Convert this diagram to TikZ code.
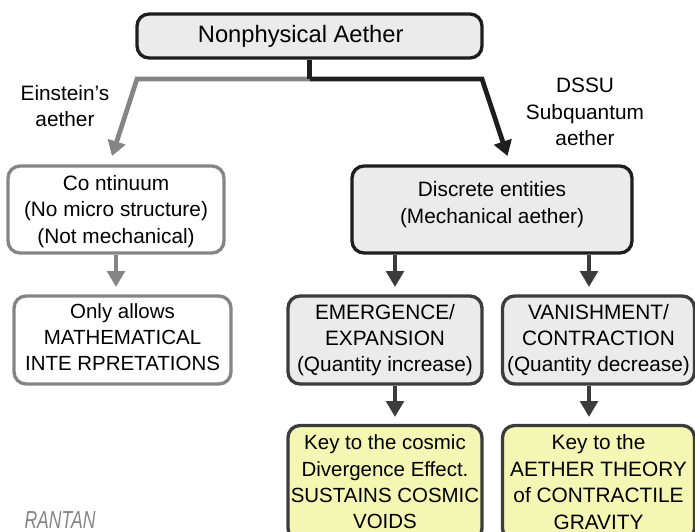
\documentclass[tikz,border=0pt]{standalone}
\usepackage{fontspec}
\setmainfont{Liberation Sans}
\usetikzlibrary{arrows.meta}
\definecolor{boxgrey}{HTML}{EBEBEB}
\definecolor{boxyellow}{HTML}{F4F6B4}
\definecolor{linegrey}{HTML}{858585}
\definecolor{linedark}{HTML}{3C3C3C}
\definecolor{lineblack}{HTML}{1E1E1E}
\newcommand{\liftlines}[1]{\rule[-#1]{0pt}{0pt}}
\newcommand{\droplines}[1]{\rule{0pt}{#1}}
\tikzset{
  every node/.style={align=center,inner sep=0pt,font=\fontsize{11.85}{15}\selectfont},
  narrowtext/.style={font=\fontsize{11.65}{15}\selectfont},
  mainbox/.style={draw=lineblack,line width=1.9pt,rounded corners=0.24cm,fill=boxgrey},
  greybox/.style={draw=linedark,line width=1.9pt,rounded corners=0.24cm,fill=boxgrey},
  whitebox/.style={draw=linegrey,line width=1.9pt,rounded corners=0.24cm,fill=white},
  keybox/.style={draw=linedark,line width=1.9pt,rounded corners=0.24cm,fill=boxyellow},
  thinarrow/.style={line width=2.5pt,-{Triangle[length=0.32cm,width=0.35cm]}},
  wideline/.style={line width=2.7pt,line join=miter},
  widearrow/.style={wideline,-{Triangle[length=0.3cm,width=0.36cm]}}
}
\begin{document}
\begin{tikzpicture}[x=0.02cm,y=-0.02cm]
\useasboundingbox (0,0) rectangle (695,531);
\clip (0,0) rectangle (695,531);

%boxes
\node[mainbox,minimum width=6.9cm,minimum height=0.88cm,font=\fontsize{13.5}{16}\selectfont] (aether) at (309.5,36) {Nonphysical Aether\hspace*{10pt}};
\node[whitebox,minimum width=4.32cm,minimum height=1.74cm] (continuum) at (116,209.5) {\droplines{10.9pt}Co ntinuum\\(No micro structure)\\(Not mechanical)};
\node[whitebox,narrowtext,minimum width=4.34cm,minimum height=1.76cm] (mathonly) at (122.5,340) {Only allows\\MATHEMATICAL\\INTE RPRETATIONS\liftlines{3.4pt}};
\node[mainbox,minimum width=5.6cm,minimum height=1.74cm] (discrete) at (492,209.5) {Discrete entities\\(Mechanical aether)\liftlines{8.2pt}};
\node[greybox,minimum width=3.88cm,minimum height=1.76cm] (emergence) at (385,340) {EMERGENCE/\\EXPANSION\\(Quantity increase)};
\node[greybox,minimum width=3.84cm,minimum height=1.76cm] (vanishment) at (598.5,340) {VANISHMENT/\\CONTRACTION\\(Quantity decrease)};
\node[keybox,narrowtext,minimum width=3.88cm,minimum height=2.3cm] (voids) at (385,483) {Key to the cosmic\\Divergence Effect.\\SUSTAINS COSMIC\\VOIDS\liftlines{1.2pt}};
\node[keybox,minimum width=3.84cm,minimum height=2.3cm] (gravity) at (598.5,483) {Key to the\\AETHER THEORY\\of CONTRACTILE\\GRAVITY\liftlines{1.2pt}};

%labels
\node (einstein) at (65,106) {Einstein’s\\aether};
\node (dssu) at (585,112) {DSSU\\Subquantum\\aether};
\node[font=\fontsize{10}{12}\selectfont\itshape,text=linegrey] (logo) at (60,520) {\scalebox{1}[1.4]{RANTAN}};

%split below the top box
\coordinate (split) at (309.5,79);
\coordinate (leftbend) at (137,79);
\coordinate (rightbend) at (482,79);
\coordinate (lefttip) at (112,156);
\coordinate (righttip) at (507.5,156);

\draw[widearrow,draw=linegrey] (split) -- (leftbend) -- (lefttip);
\draw[widearrow,draw=lineblack] (split) -- (rightbend) -- (righttip);
\draw[wideline,draw=lineblack] (aether.south -| split) -- (split);

%straight arrows
\coordinate (mathtip) at (116,287);
\coordinate (emtop) at (395,287);
\coordinate (vatop) at (589,287);
\coordinate (emkey) at (395,417);
\coordinate (vakey) at (589,417);

\draw[thinarrow,draw=linegrey] (continuum.south -| mathtip) -- (mathtip);
\draw[thinarrow,draw=linedark] (discrete.south -| emtop) -- (emtop);
\draw[thinarrow,draw=linedark] (discrete.south -| vatop) -- (vatop);
\draw[thinarrow,draw=linedark] (emergence.south -| emkey) -- (emkey);
\draw[thinarrow,draw=linedark] (vanishment.south -| vakey) -- (vakey);
\end{tikzpicture}
\end{document}
